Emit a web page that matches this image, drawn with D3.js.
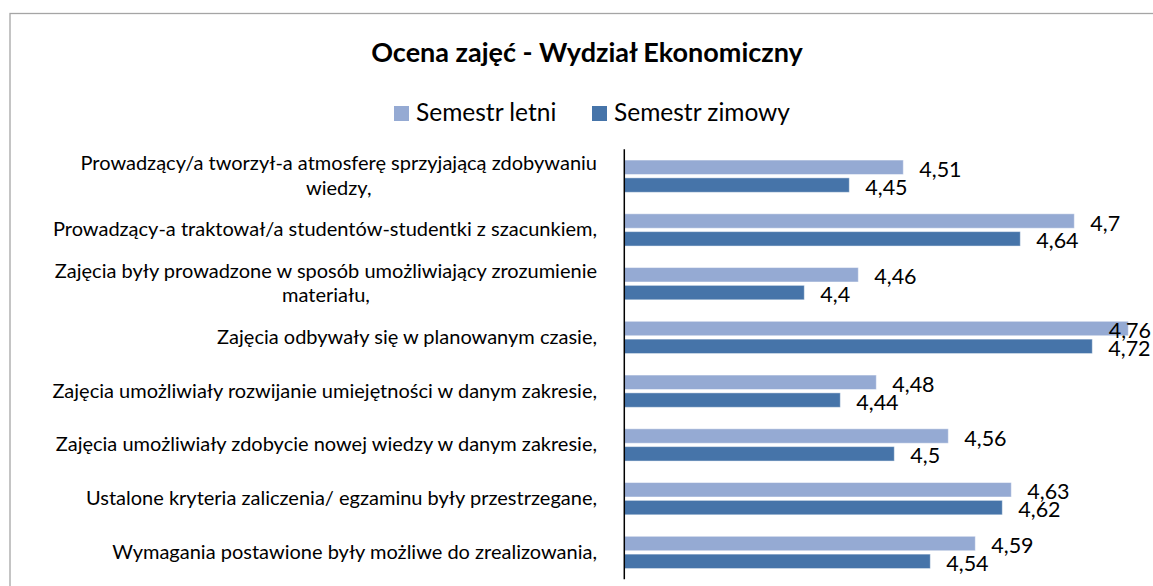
<!DOCTYPE html>
<meta charset="utf-8">
<style>
body { margin: 0; background: #fff; }
svg { display: block; font-family: Lato, "Open Sans", sans-serif; }
.title { font-size: 27px; font-weight: bold; text-anchor: middle; }
.legend text { font-size: 24.5px; }
.cat { font-size: 20px; fill: #000; }
.val { font-size: 21.5px; fill: #000; }
</style>
<svg width="1153" height="586"></svg>
<script src="https://d3js.org/d3.v7.min.js"></script>
<script>

var categories = [
  ["Prowadzący/a tworzył-a atmosferę sprzyjającą zdobywaniu", "wiedzy,"],
  ["Prowadzący-a traktował/a studentów-studentki z szacunkiem,"],
  ["Zajęcia były prowadzone w sposób umożliwiający zrozumienie", "materiału,"],
  ["Zajęcia odbywały się w planowanym czasie,"],
  ["Zajęcia umożliwiały rozwijanie umiejętności w danym zakresie,"],
  ["Zajęcia umożliwiały zdobycie nowej wiedzy w danym zakresie,"],
  ["Ustalone kryteria zaliczenia/ egzaminu były przestrzegane,"],
  ["Wymagania postawione były możliwe do zrealizowania,"]
];
var letni  = [4.51, 4.7, 4.46, 4.76, 4.48, 4.56, 4.63, 4.59];
var zimowy = [4.45, 4.64, 4.4, 4.72, 4.44, 4.5, 4.62, 4.54];
var seriesNames = ["Semestr letni", "Semestr zimowy"];
var colors = ["#95aad3", "#4674a9"];
var xDomain = [4.2, 4.8];

var svg = d3.select("svg");

// chart frame (cropped on the right and bottom in the original)
svg.append("rect")
    .attr("x", 10).attr("y", 13.5)
    .attr("width", 1200).attr("height", 700)
    .attr("fill", "none")
    .attr("stroke", "#a5a5a5")
    .attr("stroke-width", 1.3);

svg.append("text")
    .attr("class", "title")
    .attr("x", 587).attr("y", 62)
    .text("Ocena zajęć - Wydział Ekonomiczny");

// legend
var legend = svg.append("g").attr("class", "legend");
var lx = [394, 592];
seriesNames.forEach(function(name, i) {
  legend.append("rect")
      .attr("x", lx[i]).attr("y", 106)
      .attr("width", 15).attr("height", 15)
      .attr("fill", colors[i]);
  legend.append("text")
      .attr("x", lx[i] + 22).attr("y", 121)
      .text(name);
});

var x = d3.scaleLinear().domain(xDomain).range([624.3, 1164.3]);

var y = d3.scaleBand()
    .domain(d3.range(categories.length))
    .range([149.3, 579.3])
    .paddingInner(0.4)
    .paddingOuter(0.2);

var ySub = d3.scaleBand()
    .domain([0, 1])
    .range([0, y.bandwidth()])
    .paddingInner(0.19);

var series = [letni, zimowy];
var g = svg.append("g");

series.forEach(function(vals, s) {
  g.selectAll(".bar" + s)
    .data(vals)
    .enter().append("rect")
      .attr("x", x(xDomain[0]))
      .attr("y", function(d, i) { return y(i) + ySub(s); })
      .attr("width", function(d) { return x(d) - x(xDomain[0]); })
      .attr("height", ySub.bandwidth())
      .attr("fill", colors[s])
      .attr("stroke", "rgba(255,255,255,0.45)")
      .attr("stroke-width", 1);
});

// value labels, kept inside the chart on the right
var labelLimit = 1151;
series.forEach(function(vals, s) {
  g.selectAll(".val" + s)
    .data(vals)
    .enter().append("text")
      .attr("class", "val")
      .attr("y", function(d, i) { return y(i) + ySub(s) + ySub.bandwidth() / 2 + 9.5; })
      .text(function(d) { return String(d).replace(".", ","); })
      .attr("x", function(d) {
        var w = this.getComputedTextLength();
        return Math.min(x(d) + 16, labelLimit - w);
      });
});

// axis line
var axis = svg.append("g")
    .attr("transform", "translate(" + x(xDomain[0]) + ",0)")
    .call(d3.axisLeft(y).tickSize(0).tickFormat(""));
axis.select(".domain").attr("stroke", "#000").attr("stroke-width", 1.5)
    .attr("d", "M0," + y.range()[0] + "V" + y.range()[1]);

// category labels: block right-aligned, lines centered in block
var labelRight = 597, lineH = 24.5;
categories.forEach(function(lines, i) {
  var cy = y(i) + y.bandwidth() / 2;
  var grp = svg.append("g");
  var texts = lines.map(function(t, k) {
    return grp.append("text").attr("class", "cat")
        .attr("text-anchor", "middle")
        .attr("y", cy + (k - (lines.length - 1) / 2) * lineH + 6.5)
        .text(t);
  });
  var maxW = d3.max(texts, function(t) { return t.node().getComputedTextLength(); });
  texts.forEach(function(t) { t.attr("x", labelRight - maxW / 2); });
});

</script>
